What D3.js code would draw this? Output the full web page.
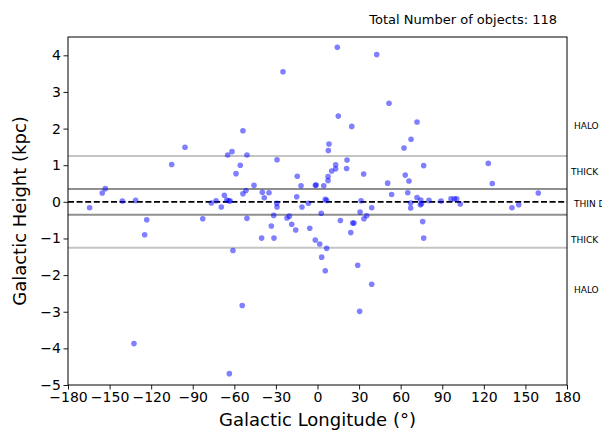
<!DOCTYPE html>
<html>
<head>
<meta charset="utf-8">
<script src="https://cdn.jsdelivr.net/npm/d3@7/dist/d3.min.js"></script>
<style>
  html, body { margin: 0; padding: 0; background: #fff; }
  svg { display: block; font-family: "DejaVu Sans", sans-serif; }
</style>
</head>
<body>
<svg id="chart" width="602" height="430"></svg>
<script>
// Galactic longitude (deg) of each object
const longitude = [
  -95.6, -105.2, -64.8, -153.1, -155.3, -140.8, -131.2, -164.4, -76.6, -73.2,
  -69.4, -67.2, -65.5, 14.3, 42.7, -24.9, 51.6, 15.0, 24.7, -53.8,
  8.3, 7.8, -61.7, -50.9, -29.2, 21.3, -55.7, 13.1, 13.1, 10.2,
  21.0, -58.8, 7.6, 7.6, -14.6, 33.3, -11.9, -1.5, -1.0, 4.5,
  -45.8, 50.6, -53.8, -51.6, -39.8, -35.0, -38.4, -15.0, -64.0, -63.0,
  5.6, 6.6, 31.4, -29.4, -29.2, -11.2, -6.6, 39.1, 71.8, 67.5,
  62.4, 76.6, 123.2, 63.3, 66.0, 126.1, 53.5, 65.1, 71.8, 74.5,
  75.0, 74.2, 80.4, 89.1, 96.3, 98.7, 100.4, 103.0, 67.2, 67.2,
  159.3, 140.3, 145.2, 75.9, 76.6, -123.2, -124.7, -82.8, -132.4, -63.6,
  -50.9, -61.0, -54.3, -31.6, -33.3, -40.3, -31.4, -22.0, -20.3, -18.6,
  -15.7, -5.6, 2.7, -1.6, 1.6, 6.6, 3.0, 5.6, 16.5, 24.0,
  25.4, 26.3, 29.0, 30.4, 39.1, 30.7, 33.5, 35.5
];
// Galactic height (kpc) of each object
const height = [
  1.49, 1.02, 1.28, 0.36, 0.24, 0.02, 0.04, -0.16, -0.03, 0.03,
  -0.14, 0.18, 0.05, 4.22, 4.02, 3.55, 2.69, 2.34, 2.06, 1.94,
  1.58, 1.40, 1.37, 1.28, 1.15, 1.14, 1.00, 1.01, 0.90, 0.84,
  0.91, 0.77, 0.69, 0.58, 0.70, 0.76, 0.44, 0.45, 0.46, 0.44,
  0.45, 0.51, 0.22, 0.31, 0.26, 0.25, 0.11, 0.14, 0.03, 0.02,
  0.07, 0.04, 0.03, -0.04, -0.14, -0.14, -0.04, -0.16, 2.18, 1.71,
  1.47, 0.99, 1.05, 0.73, 0.57, 0.50, 0.20, 0.25, 0.12, 0.05,
  -0.05, -0.08, 0.04, 0.02, 0.08, 0.08, 0.08, -0.06, -0.03, -0.17,
  0.24, -0.16, -0.08, -0.54, -0.99, -0.49, -0.90, -0.46, -3.87, -4.69,
  -0.45, -1.33, -2.83, -0.37, -0.66, -0.99, -0.99, -0.44, -0.39, -0.61,
  -0.77, -0.72, -0.31, -1.04, -1.15, -1.27, -1.51, -1.88, -0.51, -0.84,
  -0.58, -0.58, -1.73, -2.99, -2.25, -0.28, -0.46, -0.38
];

const xTicks = [-180, -150, -120, -90, -60, -30, 0, 30, 60, 90, 120, 150, 180];
const yTicks = [-5, -4, -3, -2, -1, 0, 1, 2, 3, 4];

// Component boundaries (kpc) and their labels
const haloBoundary = 1.25;
const thickBoundary = 0.35;
const regionNames = ["HALO", "THICK", "THIN DISK", "THICK", "HALO"];
const regionHeights = [2.07, 0.82, -0.05, -1.05, -2.4];

const xLabel = "Galactic Longitude (°)";
const yLabel = "Galactic Height (kpc)";
const countLabel = "Total Number of objects: " + longitude.length;

const margin = { left: 68, right: 35, top: 37, bottom: 45 };
const W = 602, H = 430;
const svg = d3.select("#chart");

const x = d3.scaleLinear().domain([-180, 180]).range([margin.left, W - margin.right]);
const y = d3.scaleLinear().domain([-5, 4.5]).range([H - margin.bottom, margin.top]);

const fmt = d => String(d).replace("-", "\u2212");

// Boundary lines
const bounds = [
  { v: haloBoundary, c: "#c4c4c4" }, { v: -haloBoundary, c: "#c4c4c4" },
  { v: thickBoundary, c: "#8f8f8f" }, { v: -thickBoundary, c: "#8f8f8f" }
];
svg.append("g").selectAll("line").data(bounds).join("line")
  .attr("x1", x(-180)).attr("x2", x(180))
  .attr("y1", d => y(d.v)).attr("y2", d => y(d.v))
  .attr("stroke", d => d.c).attr("stroke-width", 2);

svg.append("line")
  .attr("x1", x(-180)).attr("x2", x(180))
  .attr("y1", y(0)).attr("y2", y(0))
  .attr("stroke", "#000").attr("stroke-width", 1.6)
  .attr("stroke-dasharray", "6,2.6");

// Objects
const pts = longitude.map((l, i) => ({ l, z: height[i] }));
svg.append("g").selectAll("circle").data(pts).join("circle")
  .attr("cx", d => x(d.l)).attr("cy", d => y(d.z)).attr("r", 2.8)
  .attr("fill", "blue").attr("fill-opacity", 0.5);

// Axes
const xAxis = svg.append("g")
  .attr("transform", `translate(0,${H - margin.bottom})`)
  .call(d3.axisBottom(x).tickValues(xTicks).tickFormat(fmt).tickSize(4.5).tickPadding(2.5));
const yAxis = svg.append("g")
  .attr("transform", `translate(${margin.left},0)`)
  .call(d3.axisLeft(y).tickValues(yTicks).tickFormat(fmt).tickSize(4.5).tickPadding(2.5));
[xAxis, yAxis].forEach(a => {
  a.selectAll("text").attr("font-size", 14).attr("fill", "#000")
    .attr("font-family", "DejaVu Sans, sans-serif");
  a.selectAll("line").attr("stroke", "#000").attr("stroke-width", 0.9);
  a.select(".domain").remove();
});

// Frame
svg.append("rect")
  .attr("x", margin.left).attr("y", margin.top)
  .attr("width", W - margin.left - margin.right)
  .attr("height", H - margin.top - margin.bottom)
  .attr("fill", "none").attr("stroke", "#000").attr("stroke-width", 1);

// Axis titles
svg.append("text").attr("x", (x(-180) + x(180)) / 2).attr("y", 426)
  .attr("text-anchor", "middle").attr("font-size", 18).text(xLabel);
svg.append("text")
  .attr("transform", `translate(20,${(y(-5) + y(4.5)) / 2}) rotate(-90)`)
  .attr("dy", "0.35em")
  .attr("text-anchor", "middle").attr("font-size", 18).text(yLabel);

// Object count
svg.append("text").attr("x", 557).attr("y", 24)
  .attr("text-anchor", "end").attr("font-size", 13).text(countLabel);

// Region labels to the right of the plot
svg.append("g").selectAll("text").data(regionNames).join("text")
  .attr("x", d => (d === "THICK" ? 571 : 574))
  .attr("y", (d, i) => y(regionHeights[i]))
  .attr("dy", "0.35em").attr("font-size", 9).text(d => d);
</script>
</body>
</html>
